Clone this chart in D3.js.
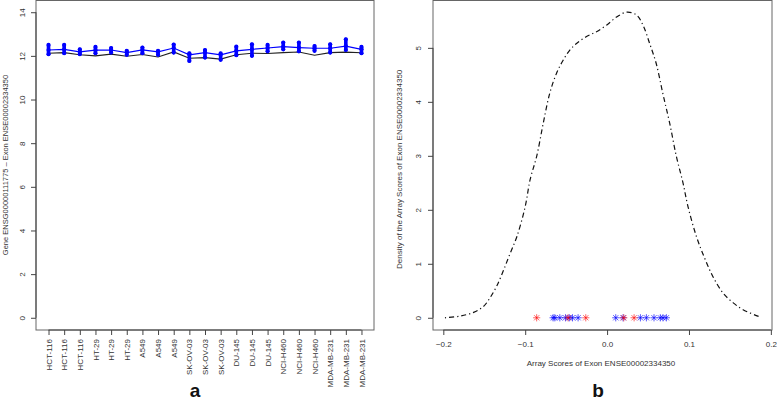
<!DOCTYPE html>
<html><head><meta charset="utf-8">
<script src="https://cdn.jsdelivr.net/npm/d3@7"></script>
<style>body{margin:0;background:#fff;}svg{display:block;font-family:"Liberation Sans",Arial,sans-serif;}</style>
</head><body>
<svg id="c" width="777" height="403"></svg>
<script>
// ---- Panel a data ----
const categories = ["HCT-116","HCT-116","HCT-116","HT-29","HT-29","HT-29","A549","A549","A549",
  "SK-OV-03","SK-OV-03","SK-OV-03","DU-145","DU-145","DU-145","NCI-H460","NCI-H460","NCI-H460",
  "MDA-MB-231","MDA-MB-231","MDA-MB-231"];
const geneLine = [12.12,12.15,12.05,12.0,12.08,11.98,12.06,11.95,12.18,11.89,11.92,11.85,12.05,12.12,12.11,12.15,12.18,12.03,12.15,12.17,12.14];
const exonLine = [12.27,12.30,12.18,12.26,12.27,12.15,12.27,12.18,12.36,12.05,12.15,12.05,12.23,12.30,12.36,12.42,12.38,12.35,12.35,12.45,12.30];
const exonHigh = [12.50,12.50,12.30,12.41,12.36,12.23,12.38,12.23,12.52,12.12,12.27,12.11,12.42,12.53,12.50,12.61,12.61,12.45,12.53,12.76,12.41];
const exonLow  = [12.08,12.12,12.08,12.12,12.15,12.05,12.12,12.05,12.15,11.77,11.92,11.82,12.03,12.00,12.21,12.30,12.21,12.23,12.15,12.27,12.12];
const yTicksA = [0,2,4,6,8,10,12,14];

// ---- Panel b data ----
const densX = [-0.198,-0.180,-0.163,-0.151,-0.143,-0.135,-0.127,-0.119,-0.110,-0.100,-0.094,-0.086,-0.078,-0.070,-0.0617,-0.0537,-0.0455,-0.0373,-0.0251,-0.0129,-0.0007,0.0115,0.0237,0.0359,0.0439,0.052,0.060,0.068,0.0765,0.0846,0.0927,0.0988,0.109,0.119,0.129,0.1415,0.1537,0.166,0.186];
const densY = [0,0.03,0.10,0.21,0.37,0.58,0.86,1.17,1.51,2.06,2.56,2.99,3.60,4.16,4.53,4.77,4.96,5.08,5.21,5.30,5.42,5.57,5.66,5.61,5.42,5.08,4.71,4.16,3.60,2.99,2.50,2.06,1.51,1.11,0.77,0.46,0.28,0.15,0.02];
const redScores = [-0.086,-0.0476,-0.026,0.0204,0.033];
const blueScores = [-0.0659,-0.0638,-0.0577,-0.0508,-0.0462,-0.0422,-0.0354,0.0106,0.0195,0.0407,0.048,0.0573,0.065,0.0683,0.0724];
const xTicksB = [-0.2,-0.1,0.0,0.1,0.2];
const yTicksB = [0,1,2,3,4,5];

const svg = d3.select("#c");
const axisCol = "#444", fs = 8;

// ================= Panel a =================
const ax = d3.scaleLinear().domain([0.2, 21.8]).range([36, 374]);
const ay = d3.scaleLinear().domain([-0.56, 14.56]).range([330, 0]);
const ga = svg.append("g");
ga.append("rect").attr("x",36).attr("y",0.5).attr("width",338).attr("height",329.5)
  .attr("fill","none").attr("stroke","#666").attr("stroke-width",1);
// y axis
const yAxA = d3.axisLeft(ay).tickValues(yTicksA).tickSize(5).tickPadding(3).tickSizeOuter(0);
const gya = ga.append("g").attr("transform","translate(36,0)").call(yAxA);
gya.select(".domain").attr("d",`M0,${ay(0)}V${ay(14)}`).attr("stroke",axisCol);
gya.selectAll(".tick line").attr("stroke",axisCol);
gya.selectAll(".tick text").attr("font-size",fs).attr("fill","#333")
  .attr("transform","translate(-11,0) rotate(-90)")
  .attr("x",0).attr("dy","0").attr("text-anchor","middle").attr("y",0);
// x axis
const idx = d3.range(1,22);
const xAxA = d3.axisBottom(ax).tickValues(idx).tickSize(5).tickFormat(d=>categories[d-1]).tickSizeOuter(0);
const gxa = ga.append("g").attr("transform","translate(0,330)").call(xAxA);
gxa.select(".domain").attr("d",`M${ax(1)},0H${ax(21)}`).attr("stroke",axisCol);
gxa.selectAll(".tick line").attr("stroke",axisCol);
gxa.selectAll(".tick text").attr("font-size",fs).attr("fill","#333")
  .attr("transform","rotate(-90)").attr("text-anchor","end").attr("x",-9).attr("y",0).attr("dy","0.32em");
// lines
const lineA = d3.line().x((d,i)=>ax(i+1)).y(d=>ay(d));
ga.append("path").datum(geneLine).attr("d",lineA).attr("fill","none").attr("stroke","#222").attr("stroke-width",1.1);
ga.append("path").datum(exonLine).attr("d",lineA).attr("fill","none").attr("stroke","#0000ff").attr("stroke-width",1.2);
const pts = [];
idx.forEach((c,i)=>{ [exonHigh[i],exonLine[i],exonLow[i]].forEach(v=>pts.push({c,v})); });
idx.forEach((c,i)=>{ const h=exonHigh[i], l=exonLow[i];
  ga.append("line").attr("x1",ax(c)).attr("x2",ax(c)).attr("y1",ay(h)).attr("y2",ay(l))
   .attr("stroke","#0000ff").attr("stroke-width",3.6).attr("stroke-linecap","round"); });
ga.selectAll("circle.p").data(pts).join("circle").attr("class","p")
  .attr("cx",d=>ax(d.c)).attr("cy",d=>ay(d.v)).attr("r",2.1).attr("fill","#0000ff");
ga.append("text").attr("transform",`translate(8,${ay(7)}) rotate(-90)`)
  .attr("text-anchor","middle").attr("font-size",7.5).attr("fill","#333")
  .text("Gene ENSG00000111775 – Exon ENSE00002334350");
ga.append("text").attr("x",195).attr("y",397).attr("text-anchor","middle")
  .attr("font-size",19).attr("font-weight","bold").attr("fill","#111").text("a");

// ================= Panel b =================
const bx = d3.scaleLinear().domain([-0.2126, 0.2014]).range([433, 772]);
const by = d3.scaleLinear().domain([-0.2264, 5.8864]).range([330, 0]);
const gb = svg.append("g");
gb.append("rect").attr("x",433).attr("y",0.5).attr("width",339).attr("height",329.5)
  .attr("fill","none").attr("stroke","#666").attr("stroke-width",1);
const yAxB = d3.axisLeft(by).tickValues(yTicksB).tickSize(5).tickSizeOuter(0).tickFormat(d3.format("d"));
const gyb = gb.append("g").attr("transform","translate(433,0)").call(yAxB);
gyb.select(".domain").attr("d",`M0,${by(0)}V${by(5)}`).attr("stroke",axisCol);
gyb.selectAll(".tick line").attr("stroke",axisCol);
gyb.selectAll(".tick text").attr("font-size",fs).attr("fill","#333")
  .attr("transform","translate(-12,0) rotate(-90)").attr("x",0).attr("y",0).attr("dy","0").attr("text-anchor","middle");
const xAxB = d3.axisBottom(bx).tickValues(xTicksB).tickSize(5).tickPadding(6).tickSizeOuter(0).tickFormat(d3.format(".1f"));
const gxb = gb.append("g").attr("transform","translate(0,330)").call(xAxB);
gxb.select(".domain").attr("d",`M${bx(-0.2)},0H${bx(0.2)}`).attr("stroke",axisCol);
gxb.selectAll(".tick line").attr("stroke",axisCol);
gxb.selectAll(".tick text").attr("font-size",fs).attr("fill","#333");
// density curve
const dens = densX.map((x,i)=>[x,densY[i]]);
gb.append("path").datum(dens).attr("d",d3.line().x(d=>bx(d[0])).y(d=>by(d[1])).curve(d3.curveCatmullRom))
  .attr("fill","none").attr("stroke","#111").attr("stroke-width",1.2).attr("stroke-dasharray","1.2,3,5,3");
// stars
function star(g, x, y, col){
  const r=3.6, d=r*0.72;
  g.append("path").attr("d",`M${x-r},${y}H${x+r}M${x},${y-r}V${y+r}M${x-d},${y-d}L${x+d},${y+d}M${x-d},${y+d}L${x+d},${y-d}`)
   .attr("stroke",col).attr("stroke-width",1).attr("fill","none");
}
blueScores.forEach(s=>star(gb,bx(s),by(0),"rgba(0,0,255,0.65)"));
redScores.forEach(s=>star(gb,bx(s),by(0),"rgba(255,0,0,0.6)"));
gb.append("text").attr("x",601).attr("y",366).attr("text-anchor","middle").attr("font-size",8).attr("fill","#333")
  .text("Array Scores of Exon ENSE00002334350");
gb.append("text").attr("transform",`translate(402,${by(2.75)}) rotate(-90)`).attr("text-anchor","middle")
  .attr("font-size",8).attr("fill","#333").text("Density of the Array Scores of Exon ENSE00002334350");
gb.append("text").attr("x",598).attr("y",397).attr("text-anchor","middle")
  .attr("font-size",19).attr("font-weight","bold").attr("fill","#111").text("b");
</script>
</body></html>
